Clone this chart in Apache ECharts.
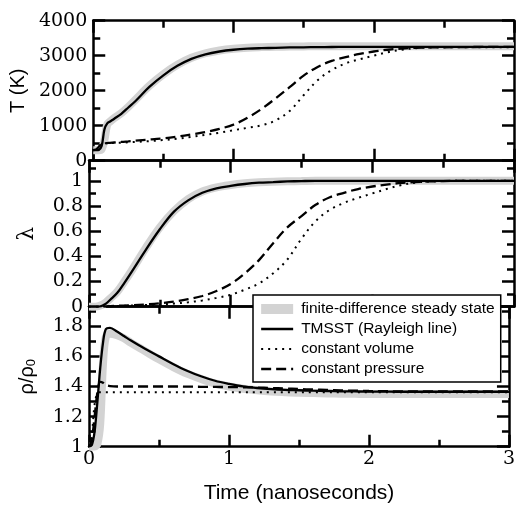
<!DOCTYPE html>
<html><head><meta charset="utf-8">
<script src="https://cdn.jsdelivr.net/npm/echarts@6/dist/echarts.min.js"></script>
<style>html,body{margin:0;padding:0;background:#fff}#c{width:518px;height:506px}</style>
</head><body><div id="c"></div>
<script>
// ---- data (time in nanoseconds) ----
const time = [0, 0.02, 0.04, 0.06, 0.08, 0.1, 0.12, 0.15, 0.2, 0.25, 0.3, 0.4, 0.5, 0.6, 0.7, 0.8, 0.9, 1.0, 1.1, 1.2, 1.3, 1.4, 1.5, 1.6, 1.7, 1.8, 1.9, 2.0, 2.1, 2.2, 2.3, 2.4, 2.6, 2.8, 3.0];

// Temperature (K)
const tempBand  = [300, 300, 300, 330, 600, 1040, 1120, 1220, 1360, 1540, 1740, 2140, 2470, 2740, 2940, 3070, 3150, 3200, 3230, 3245, 3255, 3260, 3265, 3270, 3270, 3270, 3270, 3270, 3270, 3270, 3270, 3270, 3270, 3270, 3270];
const tempTMSST = [300, 300, 310, 420, 900, 1065, 1120, 1200, 1340, 1520, 1700, 2110, 2440, 2710, 2910, 3040, 3120, 3170, 3200, 3215, 3225, 3235, 3240, 3245, 3248, 3250, 3250, 3250, 3250, 3250, 3250, 3250, 3250, 3250, 3250];
const tempVol   = [300, 320, 400, 480, 495, 500, 503, 508, 515, 525, 535, 560, 590, 630, 680, 740, 800, 870, 940, 1010, 1150, 1420, 1870, 2300, 2590, 2780, 2900, 3000, 3100, 3170, 3215, 3235, 3245, 3245, 3245];
const tempPres  = [300, 320, 400, 480, 500, 505, 510, 520, 535, 555, 575, 605, 640, 690, 750, 820, 910, 1030, 1230, 1480, 1780, 2100, 2430, 2680, 2850, 2960, 3050, 3120, 3170, 3205, 3225, 3235, 3245, 3250, 3250];

// Reaction progress lambda
const lamBand  = [0, 0, 0, 0.003, 0.01, 0.02, 0.035, 0.065, 0.12, 0.2, 0.285, 0.465, 0.63, 0.76, 0.855, 0.915, 0.948, 0.967, 0.98, 0.988, 0.993, 0.996, 0.998, 1, 1, 1, 1, 1, 1, 1, 1, 1, 1, 1, 1];
const lamTMSST = [0, 0, 0, 0, 0.002, 0.012, 0.025, 0.055, 0.11, 0.19, 0.275, 0.45, 0.615, 0.755, 0.845, 0.905, 0.94, 0.96, 0.975, 0.985, 0.99, 0.995, 0.998, 1, 1, 1, 1, 1, 1, 1, 1, 1, 1, 1, 1];
const lamVol   = [0, 0, 0, 0, 0, 0.001, 0.002, 0.003, 0.005, 0.007, 0.009, 0.013, 0.018, 0.025, 0.035, 0.05, 0.07, 0.095, 0.135, 0.185, 0.265, 0.375, 0.54, 0.68, 0.77, 0.825, 0.865, 0.9, 0.935, 0.965, 0.985, 0.995, 1, 1, 1];
const lamPres  = [0, 0, 0, 0, 0, 0.002, 0.003, 0.005, 0.007, 0.009, 0.012, 0.018, 0.027, 0.04, 0.06, 0.085, 0.125, 0.18, 0.265, 0.37, 0.505, 0.63, 0.72, 0.81, 0.87, 0.905, 0.935, 0.955, 0.97, 0.983, 0.99, 0.995, 1, 1, 1];

// Density ratio rho/rho0
const rhoBand  = [1, 1, 1, 1.02, 1.15, 1.55, 1.73, 1.75, 1.74, 1.72, 1.69, 1.635, 1.58, 1.53, 1.485, 1.45, 1.42, 1.4, 1.385, 1.375, 1.367, 1.362, 1.358, 1.356, 1.354, 1.352, 1.351, 1.35, 1.35, 1.35, 1.35, 1.35, 1.35, 1.35, 1.35];
const rhoTMSST = [1, 1.01, 1.1, 1.3, 1.52, 1.69, 1.78, 1.79, 1.765, 1.735, 1.705, 1.65, 1.6, 1.55, 1.505, 1.468, 1.438, 1.417, 1.4, 1.39, 1.383, 1.378, 1.375, 1.372, 1.37, 1.368, 1.367, 1.366, 1.366, 1.365, 1.365, 1.365, 1.365, 1.365, 1.365];
const rhoVol   = [1, 1.08, 1.28, 1.355, 1.362, 1.362, 1.362, 1.362, 1.362, 1.362, 1.362, 1.362, 1.362, 1.362, 1.362, 1.362, 1.362, 1.362, 1.362, 1.362, 1.362, 1.362, 1.362, 1.362, 1.362, 1.362, 1.362, 1.362, 1.362, 1.362, 1.362, 1.362, 1.362, 1.362, 1.362];
const rhoPres  = [1, 1.05, 1.2, 1.36, 1.43, 1.425, 1.41, 1.403, 1.4, 1.4, 1.4, 1.4, 1.4, 1.4, 1.399, 1.398, 1.397, 1.396, 1.395, 1.393, 1.39, 1.387, 1.383, 1.38, 1.377, 1.374, 1.372, 1.37, 1.369, 1.368, 1.368, 1.368, 1.368, 1.368, 1.368];

const seriesNames = ['finite-difference steady state', 'TMSST (Rayleigh line)', 'constant volume', 'constant pressure'];
const yTitles = ['T (K)', 'λ', 'ρ/ρ{sub|0}'];
const xTitle = 'Time (nanoseconds)';

// ---- layout ----
const W = 518;
const L = 89, R = 514;
const panels = [
  {top: 20.7, height: 140, min: 0, max: 4000, major: 1000, minor: 500, gap: 45},
  {top: 160.7, height: 146, min: 0, max: 1.16, major: 0.2, minor: 0.1, gap: 51},
  {top: 306.7, height: 140, min: 1, max: 1.93, major: 0.2, minor: 0.1, gap: 51}
];
const BLACK = '#000';
const serif = 'DejaVu Serif';
const sans = 'Liberation Sans';
const tickFont = 19;

const grid = panels.map(p => ({left: L, right: W - R, top: p.top, height: p.height, containLabel: false}));

function xAxis(g, pos, interval, len, main, labels) {
  const a = {
    type: 'value', gridIndex: g, position: pos, min: 0, max: 3, interval: interval,
    axisLine: {show: main, onZero: false, lineStyle: {color: BLACK, width: 2.5}},
    axisTick: {show: true, inside: true, length: len, lineStyle: {color: BLACK, width: 2.5}},
    axisLabel: {show: labels, margin: 3, color: BLACK, fontFamily: serif, fontSize: tickFont,
      formatter: v => String(Math.round(v))},
    splitLine: {show: false}
  };
  if (labels) {
    a.name = xTitle; a.nameLocation = 'middle'; a.nameGap = 36;
    a.nameTextStyle = {fontFamily: sans, fontSize: 21, color: BLACK};
  }
  return a;
}
function yAxis(g, pos, interval, len, main, labels) {
  const p = panels[g];
  const a = {
    type: 'value', gridIndex: g, position: pos, min: p.min, max: p.max, interval: interval,
    axisLine: {show: main, onZero: false, lineStyle: {color: BLACK, width: 2.5}},
    axisTick: {show: true, inside: true, length: len, lineStyle: {color: BLACK, width: 2.5}},
    axisLabel: {show: labels, margin: 6, color: BLACK, fontFamily: serif, fontSize: tickFont,
      showMinLabel: true, showMaxLabel: true,
      formatter: v => {
        const k = v / p.major;
        if (Math.abs(k - Math.round(k)) > 1e-6) return '';
        return String(+v.toFixed(1));
      }},
    splitLine: {show: false}
  };
  if (labels) {
    a.name = yTitles[g]; a.nameLocation = 'middle'; a.nameGap = p.gap; a.nameRotate = 90;
    a.nameTextStyle = {fontFamily: g === 1 ? serif : sans, fontSize: g === 1 ? 22 : 20, color: BLACK,
      rich: {sub: {fontFamily: sans, fontSize: 13, verticalAlign: 'bottom', padding: [8, 0, 0, 0]}}};
  }
  return a;
}

const xAxes = [], yAxes = [];
panels.forEach((p, g) => {
  xAxes.push(xAxis(g, 'bottom', 1, 12, true, g === 2));
  xAxes.push(xAxis(g, 'bottom', 0.5, 7, false, false));
  xAxes.push(xAxis(g, 'top', 1, 12, true, false));
  xAxes.push(xAxis(g, 'top', 0.5, 7, false, false));
  yAxes.push(yAxis(g, 'left', p.major, 12, true, true));
  yAxes.push(yAxis(g, 'left', p.minor, 7, false, false));
  yAxes.push(yAxis(g, 'right', p.major, 12, true, false));
  yAxes.push(yAxis(g, 'right', p.minor, 7, false, false));
});

const styles = [
  {color: '#d3d3d3', width: 8, type: 'solid'},
  {color: BLACK, width: 2.3, type: 'solid'},
  {color: BLACK, width: 2, type: [2, 5]},
  {color: BLACK, width: 2.3, type: [10, 5]}
];
const panelData = [
  [tempBand, tempTMSST, tempVol, tempPres],
  [lamBand, lamTMSST, lamVol, lamPres],
  [rhoBand, rhoTMSST, rhoVol, rhoPres]
];
const series = [];
panelData.forEach((sets, g) => {
  sets.forEach((vals, k) => {
    series.push({
      type: 'line', name: seriesNames[k], xAxisIndex: 4 * g, yAxisIndex: 4 * g,
      data: time.map((t, i) => [t, vals[i]]),
      symbol: 'none', smooth: 0.35, clip: true,
      itemStyle: {color: styles[k].color},
      lineStyle: {color: styles[k].color, width: styles[k].width, type: styles[k].type, cap: 'butt'},
      z: 2 + k
    });
  });
});

const hidden = {color: 'rgba(0,0,0,0)', borderWidth: 0, opacity: 0};
const chart = echarts.init(document.getElementById('c'), null, {renderer: 'canvas'});
chart.setOption({
  animation: false,
  backgroundColor: '#fff',
  grid: grid,
  xAxis: xAxes,
  yAxis: yAxes,
  legend: {
    orient: 'vertical', left: 253, top: 295, padding: [6, 6, 5, 7], itemGap: 4,
    itemWidth: 32, itemHeight: 10, backgroundColor: '#fff', borderColor: BLACK, borderWidth: 1.5,
    borderRadius: 0, selectedMode: false, z: 10,
    lineStyle: {width: 'inherit'},
    textStyle: {fontFamily: sans, fontSize: 15.5, color: BLACK, padding: [0, 0, 0, 3]},
    data: [
      {name: seriesNames[0], icon: 'rect'},
      {name: seriesNames[1], itemStyle: hidden},
      {name: seriesNames[2], itemStyle: hidden},
      {name: seriesNames[3], itemStyle: hidden}
    ]
  },
  series: series
});
</script>
</body></html>
